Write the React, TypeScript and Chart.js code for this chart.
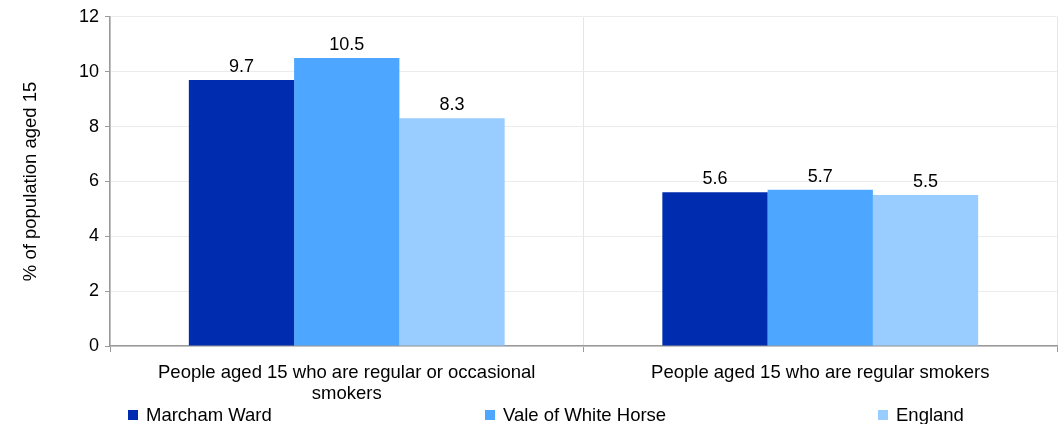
import React, { useEffect, useRef } from "react";
import { Chart, registerables } from "chart.js";

Chart.register(...registerables);

const categories: string[][] = [
  ["People aged 15 who are regular or occasional", "smokers"],
  ["People aged 15 who are regular smokers"],
];
const seriesNames = ["Marcham Ward", "Vale of White Horse", "England"];
const marchamWard = [9.7, 5.6];
const valeOfWhiteHorse = [10.5, 5.7];
const england = [8.3, 5.5];
const seriesColors = ["#002DB0", "#4DA6FF", "#99CCFF"];
const yTicks = [0, 2, 4, 6, 8, 10, 12];

const FONT = "'Liberation Sans', Arial, sans-serif";

const valueLabels = {
  id: "valueLabels",
  afterDatasetsDraw(chart: any) {
    const ctx = chart.ctx;
    ctx.save();
    ctx.font = `18px ${FONT}`;
    ctx.fillStyle = "#000";
    ctx.textAlign = "center";
    ctx.textBaseline = "alphabetic";
    chart.data.datasets.forEach((ds: any, i: number) => {
      const meta = chart.getDatasetMeta(i);
      meta.data.forEach((bar: any, j: number) => {
        ctx.fillText(String(ds.data[j]), bar.x, bar.y - 8);
      });
    });
    ctx.restore();
  },
};

const bottomLegend = {
  id: "bottomLegend",
  afterDraw(chart: any) {
    const ctx = chart.ctx;
    const xs = [0.121, 0.458, 0.829];
    const y = chart.height - 9;
    ctx.save();
    ctx.font = `18.5px ${FONT}`;
    ctx.textBaseline = "middle";
    ctx.textAlign = "left";
    chart.data.datasets.forEach((ds: any, i: number) => {
      const x = Math.round(chart.width * xs[i]);
      ctx.fillStyle = ds.backgroundColor;
      ctx.fillRect(x, y - 5, 10, 10);
      ctx.fillStyle = "#000";
      ctx.fillText(ds.label, x + 18, y + 1);
    });
    ctx.restore();
  },
};

export default function App() {
  const ref = useRef<HTMLCanvasElement>(null);
  useEffect(() => {
    if (!ref.current) return;
    const datasets = [marchamWard, valeOfWhiteHorse, england].map((d, i) => ({
      label: seriesNames[i],
      data: d,
      backgroundColor: seriesColors[i],
      borderWidth: 0,
      categoryPercentage: 0.667,
      barPercentage: 1.0,
    }));
    const chart = new Chart(ref.current, {
      type: "bar",
      data: { labels: categories as any, datasets },
      options: {
        animation: false,
        responsive: false,
        maintainAspectRatio: false,
        layout: { padding: { top: 9, right: 2, left: 0, bottom: 0 } },
        plugins: {
          legend: { display: false },
          tooltip: { enabled: false },
        },
        scales: {
          x: {
            grid: {
              color: "#e6e6e6",
              tickColor: "#999",
              tickLength: 6,
              offset: true,
            },
            border: { color: "#999", width: 1.5 },
            ticks: {
              color: "#000",
              font: { family: FONT, size: 18.5, lineHeight: 1.12 },
              maxRotation: 0,
              padding: 11,
            },
            afterFit(scale: any) {
              scale.height = 78;
            },
          },
          y: {
            min: 0,
            max: 12,
            afterBuildTicks(scale: any) {
              scale.ticks = yTicks.map((v) => ({ value: v }));
            },
            grid: {
              color: "#ececec",
              tickColor: "#999",
              tickLength: 5,
            },
            border: { color: "#999", width: 1.5 },
            ticks: {
              color: "#000",
              font: { family: FONT, size: 18 },
              padding: 6,
            },
            title: {
              display: true,
              text: "% of population aged 15",
              color: "#000",
              font: { family: FONT, size: 18.5 },
              padding: { top: 20, bottom: 0 },
            },
            afterFit(scale: any) {
              scale.width = 110;
            },
          },
        },
      },
      plugins: [valueLabels, bottomLegend],
    });
    return () => chart.destroy();
  }, []);
  return (
    <div style={{ position: "absolute", left: 0, top: 0, width: 1059, height: 424, background: "#fff" }}>
      <canvas ref={ref} width={1059} height={424} style={{ width: 1059, height: 424 }} />
    </div>
  );
}
